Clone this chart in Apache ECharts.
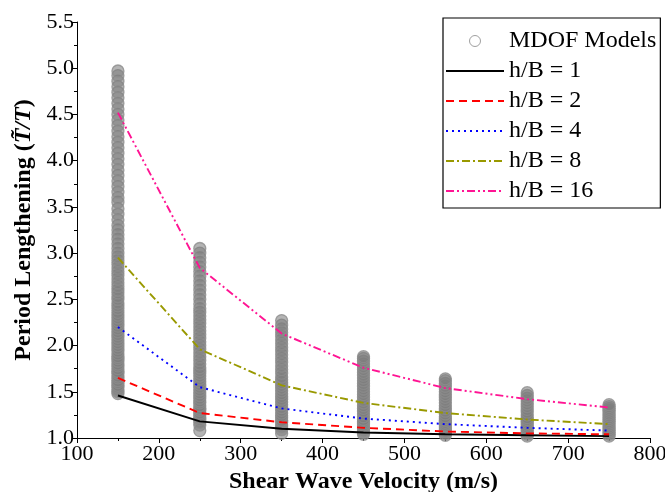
<!DOCTYPE html>
<html><head><meta charset="utf-8">
<script src="https://cdn.jsdelivr.net/npm/echarts@6/dist/echarts.min.js"></script>
<style>html,body{margin:0;padding:0;background:#fff}#c{width:665px;height:492px}</style>
</head><body><div id="c"></div>
<script>
const velocities = [150, 250, 350, 450, 550, 650, 750];
const hb1  = [1.46, 1.18, 1.10, 1.06, 1.04, 1.03, 1.02];
const hb2  = [1.65, 1.27, 1.17, 1.11, 1.07, 1.05, 1.04];
const hb4  = [2.20, 1.55, 1.32, 1.21, 1.15, 1.11, 1.08];
const hb8  = [2.95, 1.96, 1.57, 1.38, 1.27, 1.20, 1.15];
const hb16 = [4.52, 2.84, 2.13, 1.76, 1.54, 1.42, 1.33];

const mdof150 = [1.48,1.50,1.52,1.55,1.57,1.60,1.62,1.65,1.67,1.70,1.72,1.75,1.78,1.80,1.83,1.86,1.88,1.91,1.94,1.97,2.00,2.03,2.06,2.09,2.12,2.15,2.18,2.21,2.24,2.27,2.30,2.33,2.36,2.40,2.43,2.46,2.50,2.53,2.57,2.60,2.64,2.68,2.72,2.76,2.80,2.84,2.88,2.92,2.96,3.00,3.05,3.10,3.15,3.20,3.25,3.30,3.36,3.42,3.48,3.55,3.60,3.66,3.72,3.78,3.84,3.90,3.96,4.02,4.08,4.14,4.20,4.26,4.32,4.38,4.44,4.50,4.56,4.62,4.68,4.74,4.80,4.86,4.92,4.97];
const mdof250 = [1.08,1.14,1.17,1.20,1.22,1.25,1.27,1.30,1.32,1.35,1.38,1.40,1.43,1.46,1.49,1.52,1.55,1.58,1.61,1.64,1.67,1.70,1.73,1.76,1.80,1.84,1.88,1.92,1.96,2.00,2.04,2.08,2.12,2.16,2.20,2.24,2.28,2.32,2.36,2.40,2.45,2.50,2.55,2.60,2.65,2.70,2.75,2.80,2.85,2.90,2.95,3.00,3.05];
const mdof350 = [1.05,1.09,1.12,1.14,1.17,1.19,1.22,1.24,1.27,1.30,1.33,1.36,1.39,1.42,1.45,1.48,1.51,1.54,1.57,1.60,1.63,1.66,1.70,1.74,1.78,1.82,1.86,1.90,1.94,1.98,2.02,2.06,2.10,2.14,2.18,2.22,2.27];
const mdof450 = [1.04,1.06,1.08,1.10,1.12,1.14,1.16,1.18,1.20,1.23,1.26,1.29,1.32,1.35,1.38,1.41,1.44,1.47,1.50,1.53,1.56,1.59,1.62,1.65,1.68,1.71,1.74,1.77,1.80,1.83,1.86,1.88];
const mdof550 = [1.03,1.05,1.07,1.09,1.11,1.13,1.15,1.17,1.19,1.21,1.23,1.26,1.29,1.32,1.35,1.38,1.41,1.44,1.47,1.50,1.53,1.56,1.59,1.62,1.64];
const mdof650 = [1.02,1.04,1.06,1.08,1.10,1.12,1.14,1.16,1.18,1.20,1.22,1.25,1.28,1.31,1.34,1.37,1.40,1.43,1.46,1.49];
const mdof750 = [1.02,1.04,1.06,1.08,1.10,1.12,1.14,1.16,1.18,1.20,1.22,1.24,1.26,1.28,1.30,1.32,1.34,1.36];
const mdofColumns = [mdof150, mdof250, mdof350, mdof450, mdof550, mdof650, mdof750];

const scatterData = [];
mdofColumns.forEach((col, i) => col.forEach(v => scatterData.push([velocities[i], v])));
const pair = arr => velocities.map((x, i) => [x, arr[i]]);

const FONT = '"Liberation Serif","Times New Roman",serif';
const chart = echarts.init(document.getElementById('c'));
function lineSeries(name, arr, color, dash) {
  return {
    name, type: 'line', data: pair(arr), symbol: 'none', z: 5,
    lineStyle: { color, width: 1.9, type: dash },
    itemStyle: { color }
  };
}
const hidden = { opacity: 0 };
chart.setOption({
  animation: false,
  backgroundColor: '#fff',
  grid: { left: 77, right: 15, top: 22, bottom: 54, containLabel: false, outerBoundsMode: 'none' },
  legend: {
    orient: 'vertical', left: 443, top: 18,
    padding: [11, 4, 5, 2], itemGap: 6, itemWidth: 58, itemHeight: 11,
    borderColor: '#000', borderWidth: 1.2, backgroundColor: '#fff',
    textStyle: { fontFamily: FONT, fontSize: 24, color: '#000', lineHeight: 24 },
    data: [
      { name: 'MDOF Models', icon: 'circle', itemStyle: { color: '#fff', borderColor: '#888', borderWidth: 1 } },
      { name: 'h/B = 1', itemStyle: hidden },
      { name: 'h/B = 2', itemStyle: hidden },
      { name: 'h/B = 4', itemStyle: hidden },
      { name: 'h/B = 8', itemStyle: hidden },
      { name: 'h/B = 16', itemStyle: hidden }
    ]
  },
  xAxis: {
    type: 'value', min: 100, max: 800, interval: 100,
    name: 'Shear Wave Velocity (m/s)', nameLocation: 'middle', nameGap: 29,
    nameTextStyle: { fontFamily: FONT, fontSize: 24, fontWeight: 'bold', color: '#000' },
    axisLine: { lineStyle: { color: '#000', width: 1 } },
    axisTick: { inside: false, length: 5, lineStyle: { color: '#000' } },
    minorTick: { show: true, splitNumber: 2, length: 3, lineStyle: { color: '#000' } },
    axisLabel: { fontFamily: FONT, fontSize: 22, color: '#000', margin: 5 },
    splitLine: { show: false }
  },
  yAxis: {
    type: 'value', min: 1, max: 5.5, interval: 0.5,
    name: 'Period Lengthening ({i|T\u0303/T})', nameLocation: 'middle', nameGap: 37,
    nameTextStyle: { fontFamily: FONT, fontSize: 24, fontWeight: 'bold', color: '#000',
      rich: { i: { fontFamily: FONT, fontSize: 24, fontWeight: 'bold', fontStyle: 'italic', color: '#000' } } },
    axisLine: { show: true, lineStyle: { color: '#000', width: 1 } },
    axisTick: { show: true, inside: false, length: 5, lineStyle: { color: '#000' } },
    minorTick: { show: true, splitNumber: 2, length: 3, lineStyle: { color: '#000' } },
    axisLabel: { fontFamily: FONT, fontSize: 22, color: '#000', margin: 3, formatter: v => v.toFixed(1) },
    splitLine: { show: false }
  },
  series: [
    { name: 'MDOF Models', type: 'scatter', data: scatterData, symbol: 'circle', symbolSize: 12, z: 2,
      itemStyle: { color: 'rgba(125,125,125,0.72)', borderColor: '#8c8c8c', borderWidth: 1.3 } },
    lineSeries('h/B = 1', hb1, '#000000', 'solid'),
    lineSeries('h/B = 2', hb2, '#ff0000', [8, 5]),
    lineSeries('h/B = 4', hb4, '#0000ff', [2, 4]),
    lineSeries('h/B = 8', hb8, '#999900', [8, 3, 2, 3]),
    lineSeries('h/B = 16', hb16, '#ff1493', [8, 3, 2, 3, 2, 3])
  ]
});
</script></body></html>
